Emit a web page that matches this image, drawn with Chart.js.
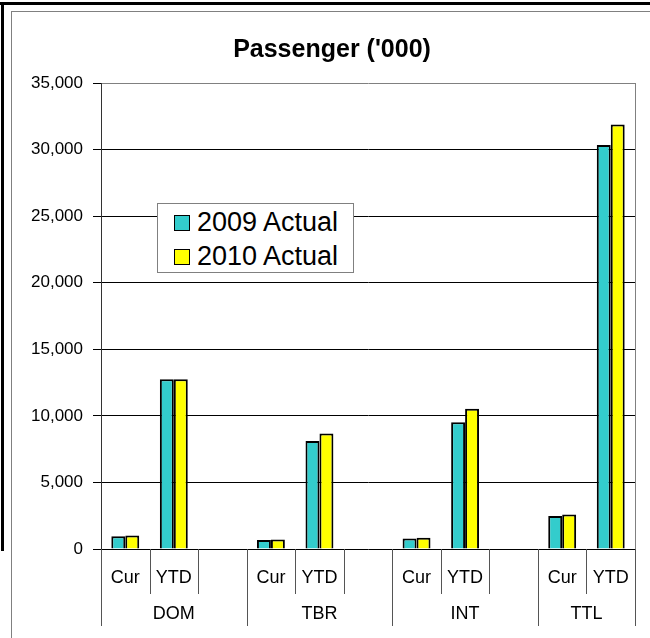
<!DOCTYPE html>
<html>
<head>
<meta charset="utf-8">
<title>Passenger ('000)</title>
<script src="https://cdn.jsdelivr.net/npm/chart.js@4.4.1/dist/chart.umd.min.js"></script>
<style>
  html, body { margin: 0; padding: 0; background: #fff; }
  #wrap { position: relative; width: 650px; height: 638px; overflow: hidden; font-family: "Liberation Sans", Arial, sans-serif; }
  .frame-top { position: absolute; left: 0; top: 2px; width: 650px; height: 3px; background: #000; }
  .frame-left { position: absolute; left: 1px; top: 2px; width: 3px; height: 549px; background: #000; }
  .frame-inner { position: absolute; left: 11px; top: 11px; width: 700px; height: 700px; border-left: 1px solid #808080; border-top: 1px solid #808080; }
  #chart { position: absolute; left: 0; top: 0; }
  #legend { position: absolute; left: 157px; top: 203px; width: 195px; height: 68px; border: 1px solid #808080; background: #fff; }
  #legend .row { position: absolute; left: 16px; height: 30px; line-height: 30px; font-size: 27px; color: #000; white-space: nowrap; }
  #legend .swatch { display: inline-block; width: 14px; height: 14px; border: 1.5px solid #000; margin-right: 7px; vertical-align: 0; }
</style>
</head>
<body>
<div id="wrap">
  <div class="frame-inner"></div>
  <div class="frame-top"></div>
  <div class="frame-left"></div>
  <!-- canvas is a bit wider than the page so the title centres like the original -->
  <canvas id="chart" width="665" height="638"></canvas>
  <div id="legend"></div>
</div>
<script>
// Category axis: sub labels per slot, group of each slot
const groups = ['DOM', 'TBR', 'INT', 'TTL'];
const subLabels = ['Cur', 'YTD', '', 'Cur', 'YTD', '', 'Cur', 'YTD', '', 'Cur', 'YTD'];
const groupOf = [0, 0, 0, 1, 1, 1, 2, 2, 2, 3, 3];

// Passengers ('000)
const actual2009 = [950, 12750, null, 680, 8120, null, 780, 9520, null, 2480, 30350];
const actual2010 = [1010, 12750, null, 720, 8680, null, 850, 10530, null, 2600, 31880];

const yMax = 35000;
const yStep = 5000;

const FONT = '"Liberation Sans", Arial, sans-serif';

// Draws the slot/group separators under the axis, group names and plot border
const categoryAxisPlugin = {
  id: 'categoryAxis',
  afterDraw(chart) {
    const { ctx, chartArea, scales: { x } } = chart;
    const half = (x.getPixelForValue(1) - x.getPixelForValue(0)) / 2;
    const axisY = chartArea.bottom;

    ctx.save();
    ctx.strokeStyle = '#808080';
    ctx.lineWidth = 1;

    // plot border on the right (top is the max grid line)
    const rx = Math.round(chartArea.right) + 0.5;
    ctx.beginPath();
    ctx.moveTo(rx, chartArea.top);
    ctx.lineTo(rx, axisY);
    ctx.stroke();

    ctx.strokeStyle = '#555';
    for (let i = 0; i <= subLabels.length; i++) {
      const px = Math.round(x.getPixelForValue(i) - half) + 0.5;
      const groupEdge = i === 0 || i === subLabels.length || groupOf[i] !== groupOf[i - 1];
      let bottom = axisY + 7;
      if (groupEdge) bottom = axisY + 77;
      else if (subLabels[i - 1] || subLabels[i]) bottom = axisY + 45;
      ctx.beginPath();
      ctx.moveTo(px, axisY);
      ctx.lineTo(px, bottom);
      ctx.stroke();
    }

    // group names
    ctx.fillStyle = '#000';
    ctx.font = '18px ' + FONT;
    ctx.textAlign = 'center';
    ctx.textBaseline = 'middle';
    groups.forEach((name, g) => {
      const idx = groupOf.map((v, i) => v === g ? i : -1).filter(i => i >= 0);
      const left = x.getPixelForValue(idx[0]) - half;
      const right = x.getPixelForValue(idx[idx.length - 1]) + half;
      ctx.fillText(name, (left + right) / 2, axisY + 65);
    });
    ctx.restore();
  }
};

const chart = new Chart(document.getElementById('chart'), {
  type: 'bar',
  data: {
    labels: subLabels,
    datasets: [
      {
        label: '2009 Actual',
        data: actual2009,
        backgroundColor: '#33CCCC',
        borderColor: '#000',
        borderWidth: 2
      },
      {
        label: '2010 Actual',
        data: actual2010,
        backgroundColor: '#FFFF00',
        borderColor: '#000',
        borderWidth: 2
      }
    ]
  },
  options: {
    responsive: false,
    animation: false,
    layout: { padding: { left: 29, top: 0, right: 30, bottom: 0 } },
    datasets: {
      bar: { categoryPercentage: 0.575, barPercentage: 1 }
    },
    plugins: {
      legend: { display: false },
      tooltip: { enabled: false },
      title: {
        display: true,
        text: "Passenger ('000)",
        color: '#000',
        font: { family: FONT, size: 25, weight: 'bold' },
        padding: { top: 35, bottom: 18 }
      }
    },
    scales: {
      x: {
        grid: { display: false, drawTicks: false },
        border: { display: false },
        ticks: {
          color: '#000',
          font: { family: FONT, size: 18 },
          autoSkip: false,
          maxRotation: 0,
          padding: 18
        },
        afterFit: (scale) => { scale.height = 89; }
      },
      y: {
        min: 0,
        max: yMax,
        border: { color: '#333', width: 1 },
        grid: {
          color: (c) => c.tick && c.tick.value === yMax ? '#808080' : '#000',
          tickColor: '#000',
          tickLength: 8
        },
        ticks: {
          stepSize: yStep,
          color: '#000',
          padding: 10,
          font: { family: FONT, size: 17 },
          callback: (v) => v.toLocaleString('en-US')
        },
        afterFit: (scale) => { scale.width = 72; }
      }
    }
  },
  plugins: [categoryAxisPlugin]
});

// HTML legend inside the plot, built from the datasets
const legendEl = document.getElementById('legend');
legendEl.innerHTML = chart.data.datasets.map((ds, i) => `
  <div class="row" style="top:${3 + i * 34}px;">
    <span class="swatch" style="background:${ds.backgroundColor};"></span>${ds.label}
  </div>
`).join('');
</script>
</body>
</html>
